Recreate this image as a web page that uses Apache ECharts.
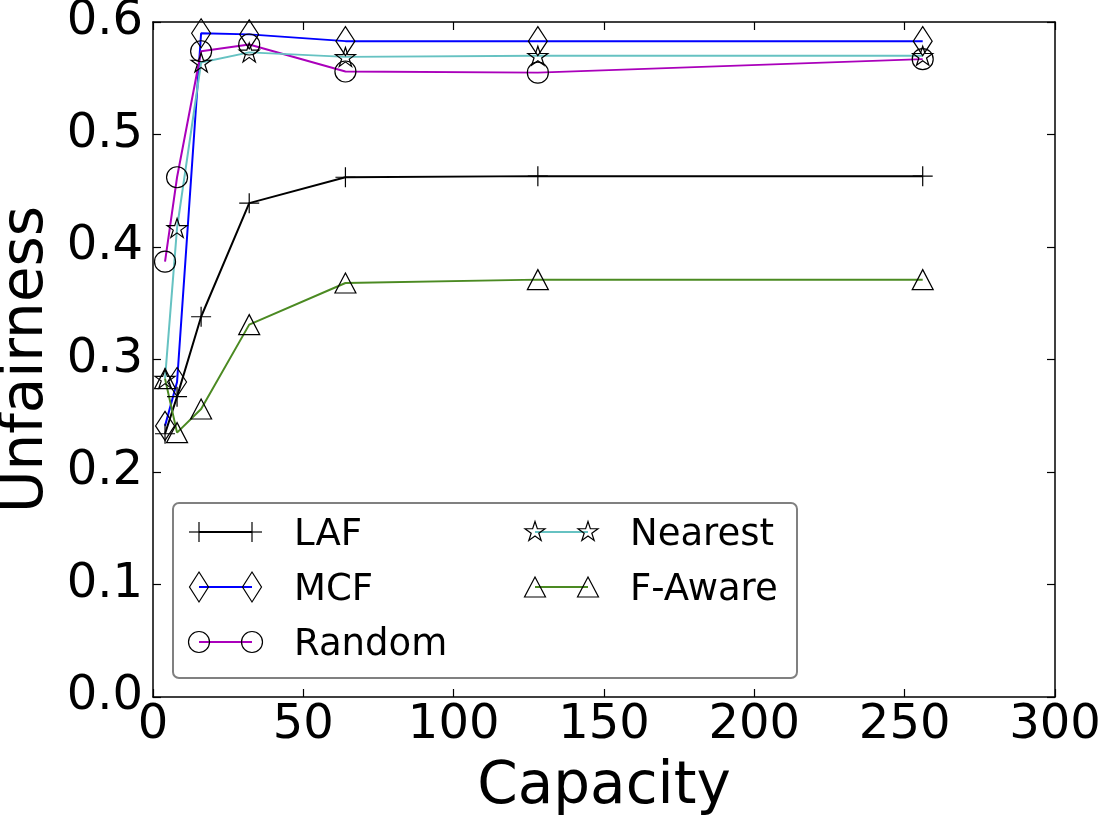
<!DOCTYPE html>
<html>
<head>
<meta charset="utf-8">
<script src="https://cdn.jsdelivr.net/npm/echarts@6/dist/echarts.min.js"></script>
<style>
  html, body { margin: 0; padding: 0; background: #fff; }
  #chart { width: 1099px; height: 821px; }
</style>
</head>
<body>
<div id="chart"></div>
<script>
// values
const capacity = [4, 8, 16, 32, 64, 128, 256];
const lafValues = [0.234, 0.267, 0.338, 0.439, 0.462, 0.463, 0.463];
const mcfValues = [0.241, 0.280, 0.590, 0.589, 0.583, 0.583, 0.583];
const randomValues = [0.387, 0.462, 0.574, 0.580, 0.556, 0.555, 0.567];
const nearestValues = [0.283, 0.417, 0.564, 0.573, 0.569, 0.570, 0.570];
const fAwareValues = [0.283, 0.235, 0.256, 0.331, 0.368, 0.371, 0.371];

const seriesNames = ['LAF', 'MCF', 'Random', 'Nearest', 'F-Aware'];
const seriesValues = [lafValues, mcfValues, randomValues, nearestValues, fAwareValues];

const xTickValues = [0, 50, 100, 150, 200, 250, 300];
const yTickValues = [0.0, 0.1, 0.2, 0.3, 0.4, 0.5, 0.6];

const FONT = '"DejaVu Sans", sans-serif';
const STAR_PATH =
  'path://M100,0L122.45,69.1L195.11,69.1L136.33,111.8L158.78,180.9L100,138.2L41.22,180.9L63.67,111.8L4.89,69.1L77.55,69.1Z';
const PLUS_PATH = 'path://M0,50L100,50M50,0L50,100';

const seriesStyles = [
  { color: '#000000', marker: 'plus', symbol: PLUS_PATH, size: [20, 20] },
  { color: '#0000ff', marker: 'diamond', symbol: 'diamond', size: [19, 29] },
  { color: '#aa00bb', marker: 'circle', symbol: 'circle', size: 21 },
  { color: '#66c2c2', marker: 'star', symbol: STAR_PATH, size: [20, 19] },
  { color: '#4b8a22', marker: 'triangle', symbol: 'triangle', size: [21, 20] },
];

const edge = { fill: 'none', stroke: '#000', lineWidth: 1.2 };

// legend markers drawn like matplotlib: marker - line - marker
const markerShape = (marker, cx, cy) => {
  if (marker === 'circle') {
    return [{ type: 'circle', z: 20, shape: { cx, cy, r: 10.5 }, style: edge }];
  }
  if (marker === 'plus') {
    return [
      { type: 'line', z: 20, shape: { x1: cx - 10, y1: cy, x2: cx + 10, y2: cy }, style: edge },
      { type: 'line', z: 20, shape: { x1: cx, y1: cy - 10, x2: cx, y2: cy + 10 }, style: edge },
    ];
  }
  let points;
  if (marker === 'diamond') {
    points = [[cx, cy - 15], [cx + 9.5, cy], [cx, cy + 15], [cx - 9.5, cy]];
  } else if (marker === 'triangle') {
    points = [[cx, cy - 10], [cx + 10.5, cy + 10], [cx - 10.5, cy + 10]];
  } else {
    points = [];
    for (let k = 0; k < 10; k++) {
      const r = k % 2 === 0 ? 10.5 : 4;
      const a = (k * Math.PI) / 5;
      points.push([cx + r * Math.sin(a), cy - r * Math.cos(a)]);
    }
  }
  return [{ type: 'polygon', z: 20, shape: { points }, style: edge }];
};

const buildLegend = () => {
  const elements = [
    {
      type: 'rect',
      z: 19,
      shape: { x: 173, y: 503, width: 624, height: 175, r: 6 },
      style: { fill: '#fff', stroke: '#808080', lineWidth: 2 },
    },
  ];
  seriesNames.forEach((name, i) => {
    const col = i < 3 ? 0 : 1;
    const row = i < 3 ? i : i - 3;
    const x1 = 199 + col * 336;
    const x2 = x1 + 53;
    const y = 532 + row * 55;
    elements.push({
      type: 'line',
      z: 20,
      shape: { x1, y1: y, x2, y2: y },
      style: { stroke: seriesStyles[i].color, lineWidth: 2 },
    });
    elements.push(...markerShape(seriesStyles[i].marker, x1, y), ...markerShape(seriesStyles[i].marker, x2, y));
    elements.push({
      type: 'text',
      z: 20,
      x: x1 + 95,
      y: y + 3,
      style: { text: name, font: '37px ' + FONT, fill: '#000', verticalAlign: 'middle' },
    });
  });
  return elements;
};

const axisBase = (ticks) => ({
  type: 'value',
  min: ticks[0],
  max: ticks[ticks.length - 1],
  interval: ticks[1] - ticks[0],
  splitLine: { show: false },
  axisLine: { show: true, onZero: false, lineStyle: { color: '#000', width: 1.5 } },
  axisTick: { show: true, inside: true, length: 8, lineStyle: { color: '#000', width: 1.2 } },
});

const chart = echarts.init(document.getElementById('chart'), null, { renderer: 'canvas' });

chart.setOption({
  animation: false,
  backgroundColor: '#fff',
  grid: { left: 153, right: 44, top: 22, bottom: 124, containLabel: false, outerBoundsMode: 'none' },
  xAxis: [
    {
      ...axisBase(xTickValues),
      position: 'bottom',
      name: 'Capacity',
      nameLocation: 'middle',
      nameGap: 62,
      nameTextStyle: { fontFamily: FONT, fontSize: 58, color: '#000' },
      axisLabel: { margin: 5, fontFamily: FONT, fontSize: 48, color: '#000' },
    },
    { ...axisBase(xTickValues), position: 'top', axisLabel: { show: false } },
  ],
  yAxis: [
    {
      ...axisBase(yTickValues),
      position: 'left',
      name: 'Unfairness',
      nameLocation: 'middle',
      nameRotate: 90,
      nameGap: 97,
      nameTextStyle: { fontFamily: FONT, fontSize: 58, color: '#000' },
      axisLabel: {
        margin: 10,
        fontFamily: FONT,
        fontSize: 48,
        color: '#000',
        formatter: (v) => v.toFixed(1),
      },
    },
    { ...axisBase(yTickValues), position: 'right', axisLabel: { show: false } },
  ],
  series: seriesNames.map((name, i) => ({
    name,
    type: 'line',
    xAxisIndex: 0,
    yAxisIndex: 0,
    data: capacity.map((c, j) => [c, seriesValues[i][j]]),
    symbol: seriesStyles[i].symbol,
    symbolSize: seriesStyles[i].size,
    showSymbol: true,
    lineStyle: { color: seriesStyles[i].color, width: 2 },
    itemStyle: { color: 'rgba(255,255,255,0)', borderColor: '#000', borderWidth: 1.2 },
    emphasis: { disabled: true },
  })),
  graphic: { elements: buildLegend() },
});
</script>
</body>
</html>
